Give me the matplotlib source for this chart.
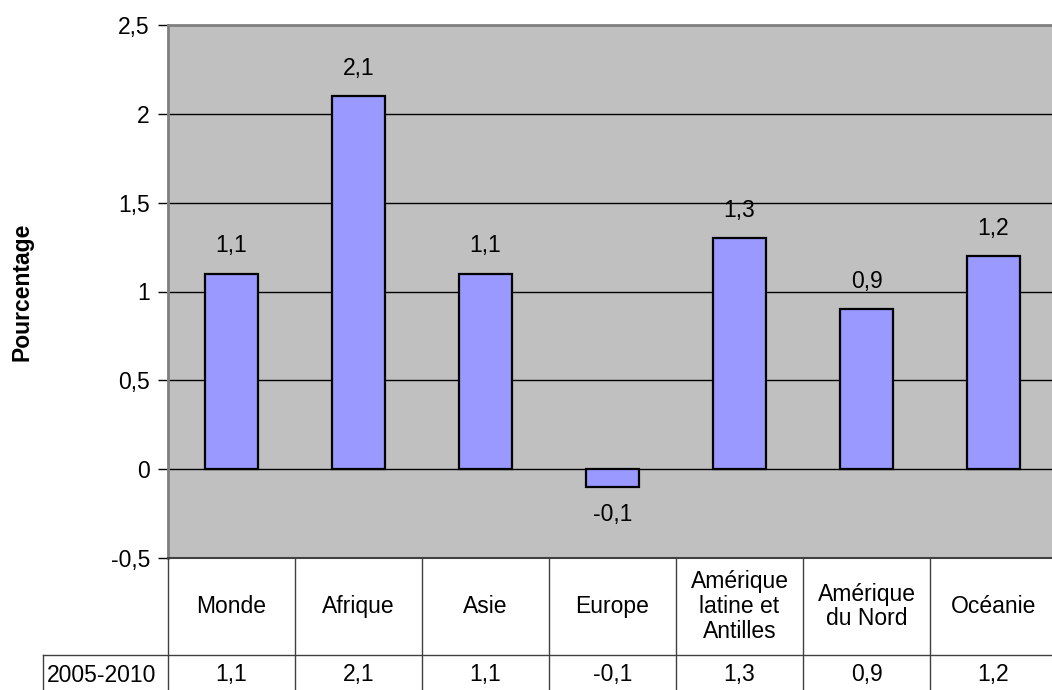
import matplotlib
matplotlib.use("Agg")
import matplotlib.pyplot as plt
from matplotlib.lines import Line2D

categories = ["Monde", "Afrique", "Asie", "Europe",
              "Amérique\nlatine et\nAntilles", "Amérique\ndu Nord", "Océanie"]
values = [1.1, 2.1, 1.1, -0.1, 1.3, 0.9, 1.2]
value_labels = ["1,1", "2,1", "1,1", "-0,1", "1,3", "0,9", "1,2"]
series_name = "2005-2010"
yticks = [-0.5, 0, 0.5, 1, 1.5, 2, 2.5]
ytick_labels = ["-0,5", "0", "0,5", "1", "1,5", "2", "2,5"]

plt.rcParams['font.family'] = ['Liberation Sans', 'DejaVu Sans']
FS = 16.5

W, H = 1052, 690
fig = plt.figure(figsize=(W / 100, H / 100), dpi=100)
left_px, top_px, bottom_px = 168, 25, 558
cat_w = 127
right_px = left_px + cat_w * len(categories)
ax = fig.add_axes([left_px / W, 1 - bottom_px / H,
                   (right_px - left_px) / W, (bottom_px - top_px) / H])
ax.set_facecolor("#C0C0C0")
ax.set_xlim(-0.5, len(categories) - 0.5)
ax.set_ylim(-0.5, 2.5)
ax.set_yticks(yticks)
ax.set_yticklabels(ytick_labels, fontsize=FS)
ax.set_xticks([])
ax.yaxis.grid(True, color="black", linewidth=1)
ax.set_axisbelow(True)
ax.tick_params(axis="y", direction="out", length=7, width=1, color="black", pad=6)
for s in ["right", "bottom"]:
    ax.spines[s].set_visible(False)
for s in ["left", "top"]:
    ax.spines[s].set_color("#808080")
    ax.spines[s].set_linewidth(2)

x = list(range(len(categories)))
bars = ax.bar(x, values, width=0.41, color="#9999FF", edgecolor="black", linewidth=1.6, zorder=3)
for xi, v, lab in zip(x, values, value_labels):
    off = 20 if v >= 0 else -20
    ax.annotate(lab, (xi, v), xytext=(0, off), textcoords="offset points",
                ha="center", va="center", fontsize=FS)


def fx(px):
    return px / W


def fy(py):
    return 1 - py / H


ax.set_ylabel("Pourcentage", fontsize=FS, fontweight="bold", labelpad=0)
ax.yaxis.set_label_coords(fx(22), fy(292), transform=fig.transFigure)
ax.yaxis.label.set_va("center")

# data table below the plot
lc = "#404040"
mid_px = 655
fig.add_artist(Line2D([fx(left_px), fx(W)], [fy(bottom_px), fy(bottom_px)], color="#404040", lw=1.5))
for k in range(len(categories) + 1):
    xp = left_px + cat_w * k
    if xp <= W:
        fig.add_artist(Line2D([fx(xp), fx(xp)], [fy(bottom_px), fy(H)], color=lc, lw=1))
lab_left = 43
fig.add_artist(Line2D([fx(lab_left), fx(W)], [fy(mid_px), fy(mid_px)], color=lc, lw=1))
fig.add_artist(Line2D([fx(lab_left), fx(lab_left)], [fy(mid_px), fy(H)], color=lc, lw=1))

for k, (c, lab) in enumerate(zip(categories, value_labels)):
    cx = left_px + cat_w * (k + 0.5)
    fig.text(fx(cx), fy((bottom_px + mid_px) / 2), c, ha="center", va="center",
             fontsize=FS, linespacing=1.1)
    fig.text(fx(cx), fy(675), lab, ha="center", va="center", fontsize=FS)
fig.text(fx(lab_left + 4), fy(675), series_name, ha="left", va="center", fontsize=FS)

fig.savefig("out.png", dpi=100)
